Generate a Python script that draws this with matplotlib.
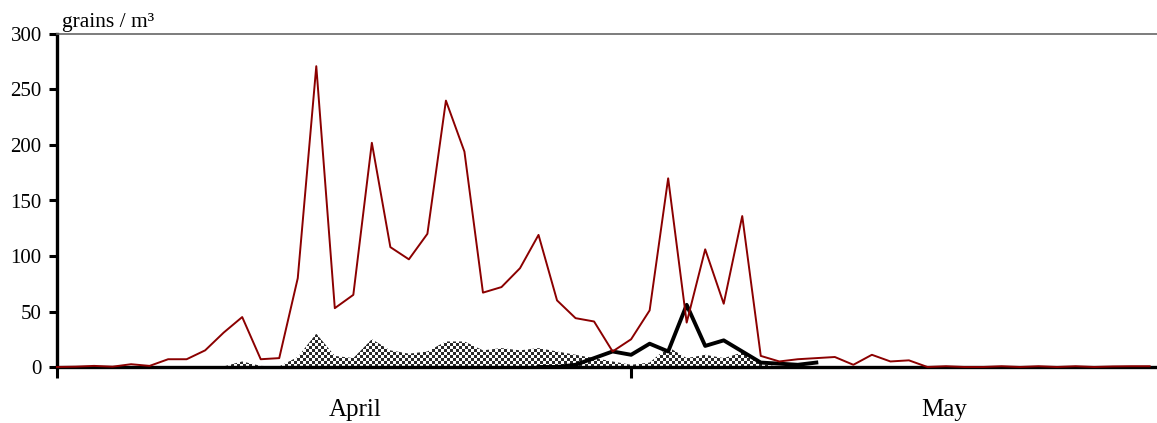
import numpy as np
import matplotlib
matplotlib.use('Agg')
import matplotlib.pyplot as plt

# daily values, starting at the first tick of the axis
red_vals = [0, 0.3, 1, 0.3, 2.5, 1, 7, 7, 15, 31, 45, 7, 8, 80, 271, 53, 65, 202,
            108, 97, 120, 240, 194, 67, 72, 89, 119, 60, 44, 41, 14, 25, 51, 170,
            40, 106, 57, 136, 10, 5, 7, 8, 9, 2, 11, 5, 6, 0, 0.7, 0, 0, 0.7, 0,
            0.7, 0, 0.7, 0, 0.5, 0.7, 0.7]
black_start = 26
black_vals = [0, 0, 2, 8, 14, 11, 21, 14, 56, 19, 24, 14, 4, 3, 2, 4]
area_vals = [0, 0, 0, 0, 0, 0, 0, 0, 0, 0.5, 5, 1, 0.5, 9, 30, 10, 8, 25, 15, 12,
             14, 23, 23, 15, 17, 15, 17, 14, 11, 8, 5, 2, 4, 18, 8, 11, 8, 13, 3,
             0, 0]
month_labels = ['April', 'May']
month_pos = [16.1, 47.9]
month_ticks = [0, 31]

plt.rcParams['font.family'] = ['Liberation Serif', 'DejaVu Serif']

fig = plt.figure(figsize=(11.57, 4.23), dpi=100)
ax = fig.add_axes([57 / 1157, 1 - 367 / 423, 1100 / 1157, 333 / 423])

x_red = np.arange(len(red_vals))
x_black = np.arange(black_start, black_start + len(black_vals))
x_area = np.arange(len(area_vals))
xmax = 1100 / 18.52

# checkerboard pattern clipped to the area
poly = ax.fill_between(x_area, area_vals, color='none', lw=0)
cell = 3
ny, nx = 333 // cell + 1, 1100 // cell + 1
checker = (np.indices((ny, nx)).sum(axis=0) % 2).astype(float)
im = ax.imshow(checker, cmap=matplotlib.colors.ListedColormap(['#2a2a2a', 'white']),
               extent=(0, xmax * nx * cell / 1100, 0, 300 * ny * cell / 333),
               origin='lower', interpolation='nearest', aspect='auto', zorder=1)
im.set_clip_path(poly.get_paths()[0], transform=ax.transData)

ax.plot(x_black, black_vals, color='black', lw=2.8, zorder=3, clip_on=False)
ax.plot(x_red, red_vals, color='#8b0000', lw=1.4, zorder=4, clip_on=False)

ax.set_xlim(0, xmax)
ax.set_ylim(0, 300)
ax.set_yticks([0, 50, 100, 150, 200, 250, 300])
ax.tick_params(axis='y', direction='out', length=6, width=2.2, labelsize=15, pad=5)

ax.set_xticks(month_ticks)
ax.set_xticklabels([])
ax.set_xticks(month_pos, minor=True)
ax.set_xticklabels(month_labels, minor=True)
ax.tick_params(axis='x', which='major', direction='out', length=8, width=2.2)
ax.tick_params(axis='x', which='minor', length=0, labelsize=18, pad=23)

for s in ['left', 'bottom']:
    ax.spines[s].set_linewidth(2.4)
    ax.spines[s].set_zorder(2.5)
ax.spines['right'].set_visible(False)
ax.spines['top'].set_color('#666666')
ax.spines['top'].set_linewidth(1.2)

fig.text(62 / 1157, 1 - 27 / 423, 'grains / m³', fontsize=15.5, va='baseline', ha='left')

fig.savefig('out.png', dpi=100)
